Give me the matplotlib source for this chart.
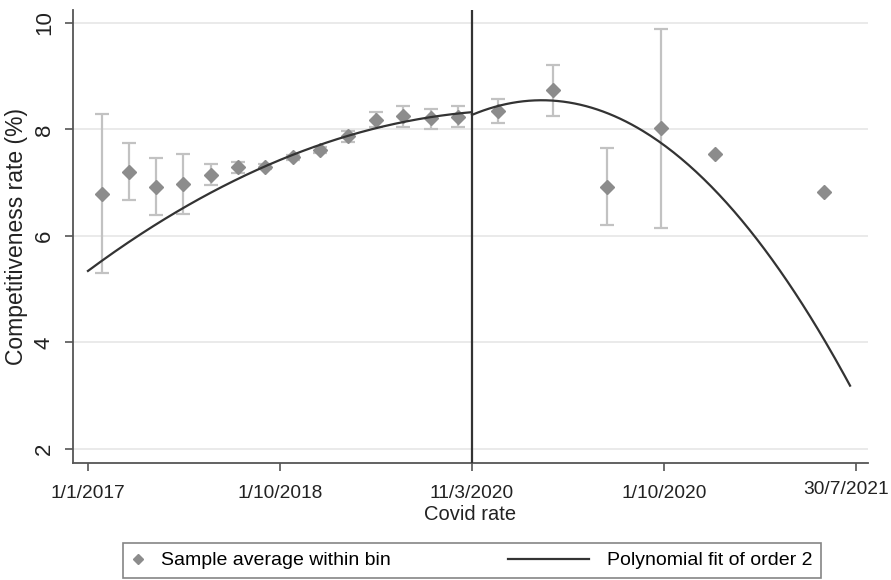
import numpy as np
import matplotlib
matplotlib.use("Agg")
import matplotlib.pyplot as plt
import matplotlib.transforms as mtransforms
from matplotlib.lines import Line2D
from matplotlib.legend_handler import HandlerLine2D

# bin averages (x in tick units: 0 = 1/1/2017 ... 4 = 30/7/2021)
bin_x = [0.071, 0.215, 0.354, 0.496, 0.639, 0.781, 0.922, 1.066, 1.208, 1.353,
         1.500, 1.639, 1.785, 1.926, 2.134, 2.420, 2.702, 2.983, 3.266, 3.833]
bin_y = [6.79, 7.20, 6.92, 6.98, 7.15, 7.29, 7.30, 7.48, 7.62, 7.87,
         8.18, 8.26, 8.21, 8.24, 8.35, 8.74, 6.92, 8.02, 7.54, 6.82]
ci_lo = [5.31, 6.68, 6.40, 6.42, 6.95, 7.19, 7.25, 7.43, 7.56, 7.77,
         8.05, 8.05, 8.01, 8.04, 8.13, 8.26, 6.20, 6.15, np.nan, np.nan]
ci_hi = [8.29, 7.74, 7.46, 7.54, 7.35, 7.39, 7.35, 7.53, 7.68, 7.97,
         8.32, 8.44, 8.38, 8.44, 8.57, 9.21, 7.65, 9.89, np.nan, np.nan]

# readings taken along the two fitted curves
fit_left_x = [0.0, 0.219, 0.479, 0.74, 1.0, 1.469, 1.729, 1.99]
fit_left_y = [5.40, 5.80, 6.52, 7.02, 7.42, 8.01, 8.19, 8.32]
fit_right_x = [2.0, 2.11, 2.34, 2.51, 2.806, 2.927, 3.066, 3.27, 3.448, 3.708, 3.969]
fit_right_y = [8.27, 8.43, 8.52, 8.49, 8.21, 7.90, 7.49, 6.84, 6.09, 4.77, 3.21]

tick_pos = [0, 1, 2, 3, 4]
tick_labels = ["1/1/2017", "1/10/2018", "11/3/2020", "1/10/2020", "30/7/2021"]
cutoff = 2

font = ["Liberation Sans", "DejaVu Sans"]
text_col = "#222222"

fig = plt.figure(figsize=(8.91, 5.8), dpi=100)
ax = fig.add_axes([73 / 891, 1 - 463 / 580, 795 / 891, 453 / 580])

axis_col = "#555555"
ax.set_xlim(-0.078, 4.0625)
ax.set_ylim(1.737, 10.244)
ax.set_yticks([2, 4, 6, 8, 10])
ax.yaxis.grid(True, color="#e8e8e8", lw=1.3)
ax.set_axisbelow(True)
for s in ["top", "right"]:
    ax.spines[s].set_visible(False)
for s in ["left", "bottom"]:
    ax.spines[s].set_color(axis_col)
    ax.spines[s].set_linewidth(1.3)

# confidence intervals
bx = np.array(bin_x)
by = np.array(bin_y)
lo = np.array(ci_lo)
hi = np.array(ci_hi)
has_ci = ~np.isnan(lo)
ax.errorbar(bx[has_ci], by[has_ci],
            yerr=[by[has_ci] - lo[has_ci], hi[has_ci] - by[has_ci]],
            fmt="none", ecolor="#c2c2c2", elinewidth=1.6, capsize=5, capthick=1.6, zorder=2)
ax.plot(bx, by, ls="none", marker="D", ms=7, color="#8c8c8c", mec="#8c8c8c", zorder=3)

# order 2 fits on each side of the cutoff
for fx, fy in [(fit_left_x, fit_left_y), (fit_right_x, fit_right_y)]:
    coef = np.polyfit(fx, fy, 2)
    xs = np.linspace(fx[0], fx[-1], 200)
    ax.plot(xs, np.polyval(coef, xs), color="#333333", lw=1.6, zorder=4)

ax.axvline(cutoff, color="#333333", lw=1.6, zorder=5)

ax.set_xticks(tick_pos)
ax.set_xticklabels(tick_labels, family=font, fontsize=13.8)
ax.tick_params(axis="x", length=6, width=1.2, color=axis_col, pad=10, labelcolor=text_col)
ax.tick_params(axis="y", length=6, width=1.2, color=axis_col, pad=7, labelcolor=text_col)
for t in ax.get_yticklabels():
    t.set_family(font)
    t.set_fontsize(16)
    t.set_rotation(90)
    t.set_va("center")

# last date label sits a little left of its tick, as in the original
last = ax.get_xticklabels()[-1]
last.set_transform(last.get_transform() + mtransforms.ScaledTranslation(-10 / 100, 4 / 100, fig.dpi_scale_trans))

ax.set_xlabel("Covid rate", family=font, fontsize=14.5, color=text_col, labelpad=2)
ax.set_ylabel("Competitiveness rate (%)", family=font, fontsize=16.5, color=text_col, labelpad=4)


class LongLineHandler(HandlerLine2D):
    # draws the legend line longer than the handle box, reaching to the left
    def create_artists(self, legend, orig_handle, xdescent, ydescent, width, height, fontsize, trans):
        y = height / 2 - ydescent
        extra = 3.6 * fontsize
        line = Line2D([-xdescent - extra, width - xdescent], [y, y])
        self.update_prop(line, orig_handle, legend)
        line.set_transform(trans)
        return [line]


marker_handle = Line2D([], [], ls="none", marker="D", ms=5, color="#8c8c8c")
line_handle = Line2D([], [], color="#333333", lw=1.6)
leg = fig.legend([marker_handle, line_handle],
                 ["Sample average within bin", "Polynomial fit of order 2"],
                 loc="lower center", bbox_to_anchor=(0.530, 0.0), ncol=2,
                 prop={"family": font, "size": 14}, frameon=True, fancybox=False,
                 edgecolor="#666666", handlelength=0.6, handletextpad=0.9,
                 columnspacing=9.6, borderpad=0.45, borderaxespad=0.1,
                 handler_map={line_handle: LongLineHandler()})
leg.get_frame().set_linewidth(1.2)

fig.savefig("out.png", dpi=100)
